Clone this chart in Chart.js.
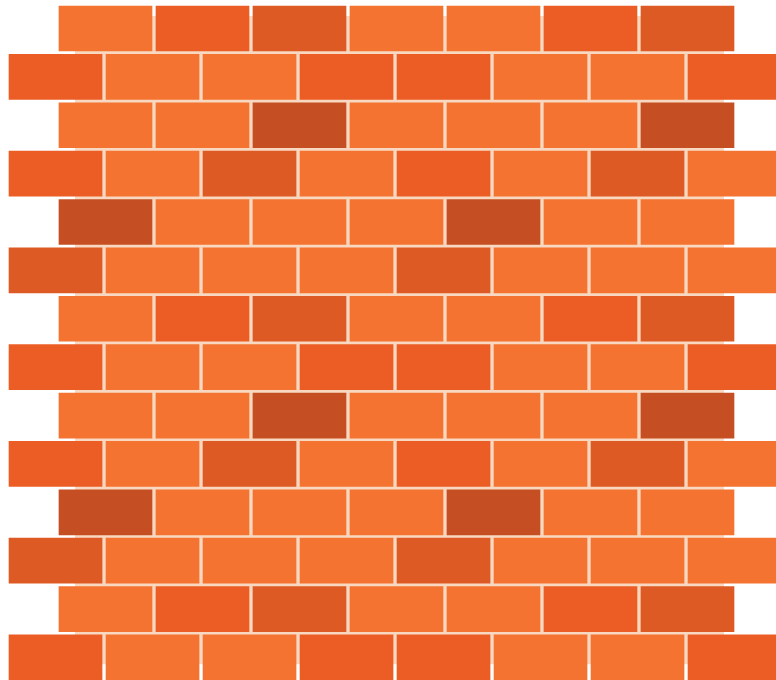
<!DOCTYPE html>
<html>
<head>
<meta charset="utf-8">
<title>Brick wall</title>
<script src="https://cdn.jsdelivr.net/npm/chart.js@4.4.1/dist/chart.umd.min.js"></script>
<style>
  html, body { margin: 0; padding: 0; background: #ffffff; }
  #wrap { width: 776px; height: 680px; }
</style>
</head>
<body>
<div id="wrap"><canvas id="wall"></canvas></div>
<script>
// brick colours: 0 light, 1 red, 2 dark, 3 burnt
const shades = ["#F47330", "#EC5D25", "#DD5A24", "#C54F23"];
const mortarColor = "#F8D8C0";

// shade of each brick, one list per course, top to bottom
const courseA = [0, 1, 2, 0, 0, 1, 2];
const courseB = [1, 0, 0, 1, 1, 0, 0, 1];
const courseC = [0, 0, 3, 0, 0, 0, 3];
const courseD = [1, 0, 2, 0, 1, 0, 2, 0];
const courseE = [3, 0, 0, 0, 3, 0, 0];
const courseF = [2, 0, 0, 0, 2, 0, 0, 0];
const courses = [
    courseA, courseB, courseC, courseD, courseE, courseF,
    courseA, courseB, courseC, courseD, courseE, courseF,
    courseA, courseB
];

// wall units: 1 = one brick + one joint
const brickLength = 0.959;
const stagger = 0.515;          // shift of the short courses
const mortarX = [0.68, 7.37];
const mortarY = [0.74, 14.14];

const slots = Math.max(...courses.map(c => c.length));
const datasets = [];

for (let k = 0; k < slots; k++) {
    const data = [];
    courses.forEach((course, i) => {
        if (k >= course.length) return;
        const start = k + (i % 2 === 0 ? stagger : 0);
        data.push({ y: i + 1, x: [start, start + brickLength], shade: course[k] });
    });
    datasets.push({
        data: data,
        backgroundColor: ctx => ctx.raw ? shades[ctx.raw.shade] : shades[0],
        borderWidth: 0,
        grouped: false,
        barThickness: 45
    });
}

// mortar bed behind the bricks
const mortar = {
    id: "mortar",
    beforeDatasetsDraw(chart) {
        const { ctx, scales: { x, y } } = chart;
        const left = x.getPixelForValue(mortarX[0]);
        const right = x.getPixelForValue(mortarX[1]);
        const top = y.getPixelForValue(mortarY[0]);
        const bottom = y.getPixelForValue(mortarY[1]);
        ctx.save();
        ctx.fillStyle = mortarColor;
        ctx.fillRect(left, top, right - left, bottom - top);
        ctx.restore();
    }
};

new Chart(document.getElementById("wall").getContext("2d"), {
    type: "bar",
    data: { datasets: datasets },
    options: {
        indexAxis: "y",
        responsive: true,
        maintainAspectRatio: false,
        animation: false,
        events: [],
        layout: { padding: 0 },
        scales: {
            x: { type: "linear", min: -0.093, max: 7.907, offset: false, display: false },
            y: { type: "linear", reverse: true, min: 0.411, max: 14.466, offset: false, display: false,
                 ticks: { stepSize: 1, includeBounds: false } }
        },
        plugins: {
            legend: { display: false },
            tooltip: { enabled: false }
        }
    },
    plugins: [mortar]
});
</script>
</body>
</html>
